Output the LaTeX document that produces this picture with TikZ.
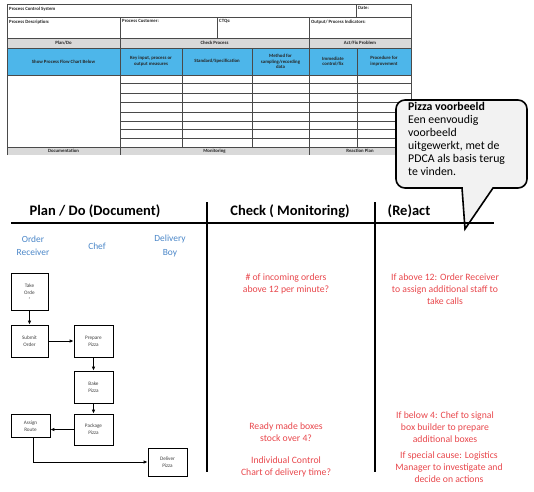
\documentclass[tikz,border=0pt]{standalone}
\usepackage{fontspec}
\setmainfont{Carlito}
\usetikzlibrary{arrows.meta, positioning}
\definecolor{HeadGray}{HTML}{D9D9D9}
\definecolor{SkyBlue}{HTML}{4DB6EA}
\definecolor{GridGray}{HTML}{4A4A4A}
\definecolor{NoteRed}{HTML}{E8474C}
\definecolor{RoleBlue}{HTML}{4A86C8}
\definecolor{BubbleGray}{HTML}{F2F2F2}

\begin{document}
\begin{tikzpicture}[
    x=1pt, y=-1pt,
    grid/.style={draw=GridGray, line width=0.7pt},
    cell/.style={font=\fontsize{4.8}{5.8}\selectfont\bfseries, text=black!85, inner sep=1pt, align=center},
    celltl/.style={cell, anchor=north west, align=left},
    flow/.style={draw, line width=0.7pt, align=center, inner sep=1pt, font=\fontsize{5.2}{7.2}\selectfont, text=black!75},
    flowarrow/.style={-{Latex[length=4pt, width=3.5pt]}, line width=0.9pt},
    phase/.style={font=\fontsize{14.5}{16}\selectfont\bfseries},
    role/.style={font=\fontsize{9.4}{13.5}\selectfont, text=RoleBlue, align=center},
    redtext/.style={font=\fontsize{9.7}{12}\selectfont, text=NoteRed, align=center},
    bar/.style={line width=2.2pt}
  ]
    \useasboundingbox (0,0) rectangle (534,491);

    % template table
    \fill[HeadGray] (7,38) rectangle (411,48);
    \fill[HeadGray] (7,147) rectangle (411,155);
    \fill[SkyBlue] (7,48) rectangle (411,75);
    \draw[grid] (7,155) -- (7,4) -- (411,4) -- (411,155);
    \foreach \yy in {17,38,48,75,147}
      \draw[grid] (7,\yy) -- (411,\yy);
    \foreach \yy in {83,93,102,112,121,129,138}
      \draw[grid] (120,\yy) -- (411,\yy);
    \draw[grid] (356,4) -- (356,17);
    \foreach \xx in {120,217,309}
      \draw[grid] (\xx,17) -- (\xx,38);
    \foreach \xx in {120,309}
      \draw[grid] (\xx,38) -- (\xx,48);
    \foreach \xx in {120,182,252,309,357}
      \draw[grid] (\xx,48) -- (\xx,147);
    \foreach \xx in {120,309}
      \draw[grid] (\xx,147) -- (\xx,155);

    \node[celltl] (tTitle) at (8,5.5) {Process Control System};
    \node[celltl] (tDate) at (357,5.5) {Date:};
    \node[celltl] (tDesc) at (8,18.5) {Process Description:};
    \node[celltl] (tCust) at (121,18.5) {Process Customer:};
    \node[celltl] (tCtq) at (218,18.5) {CTQs:};
    \node[celltl] (tOut) at (310,18.5) {Output/ Process Indicators:};
    \node[cell] (tPlan) at (63.5,43) {Plan/Do};
    \node[cell] (tCheck) at (214.5,43) {Check Process};
    \node[cell] (tAct) at (360,43) {Act/Fix Problem};
    \node[cell] (tFlow) at (63.5,61.5) {Show Process Flow Chart Below};
    \node[cell] (tKey) at (151,61.5) {Key input, process or\\output measures};
    \node[cell] (tStd) at (217,61.5) {Standard/Specification};
    \node[cell] (tMeth) at (280.5,61.5) {Method for\\sampling/recording\\data};
    \node[cell] (tImm) at (333,61.5) {Immediate\\control/fix};
    \node[cell] (tProc) at (384,61.5) {Procedure for\\improvement};
    \node[cell] (tDoc) at (63.5,151) {Documentation};
    \node[cell] (tMon) at (214.5,151) {Monitoring};
    \node[cell] (tReact) at (360,151) {Reaction Plan};

    % speech bubble
    \draw[line width=1.6pt, fill=BubbleGray] (462,188) [rounded corners=9pt] -- (396,188) -- (396,100)
      -- (527,100) -- (527,188) [sharp corners] -- (493,188) -- (465,229) -- cycle;
    \node[anchor=north west, align=left, inner sep=0pt, font=\fontsize{11.8}{13}\selectfont] (note) at (408,102)
      {\textbf{Pizza voorbeeld}\\Een eenvoudig\\voorbeeld\\uitgewerkt, met de\\PDCA als basis terug\\te vinden.};

    % PDCA board
    \draw[bar] (11,223) -- (494,223);
    \draw[bar] (207,202) -- (207,472);
    \draw[bar] (375,202) -- (375,472);
    \node[phase] (plan) at (95,211) {Plan / Do (Document)};
    \node[phase] (check) at (290,211) {Check ( Monitoring)};
    \node[phase] (react) at (409,211) {(Re)act};

    \node[role] (receiver) at (33,246) {Order\\Receiver};
    \node[role] (chef) at (97,246) {Chef};
    \node[role] (boy) at (170,246) {Delivery\\Boy};

    \node[flow, minimum width=37pt, minimum height=37pt] (take) at (29.5,291.5) {Take\\Orde\\[-2.5pt]{\fontsize{3.5}{4}\selectfont r}};
    \node[flow, minimum width=37pt, minimum height=32pt] (submit) at (29.5,341) {Submit\\Order};
    \node[flow, minimum width=39pt, minimum height=32pt] (prepare) at (93.5,341) {Prepare\\Pizza};
    \node[flow, minimum width=39pt, minimum height=32pt] (bake) at (93.5,387) {Bake\\Pizza};
    \node[flow, minimum width=39pt, minimum height=31pt] (package) at (93.5,429.5) {Package\\Pizza};
    \node[flow, minimum width=39pt, minimum height=23pt, anchor=north] (assign) at (30.5,414) {Assign\\Route};
    \node[flow, minimum width=39pt, minimum height=28pt] (deliver) at (167.5,462) {Deliver\\Pizza};

    \draw[flowarrow] (take) -- (submit);
    \draw[flowarrow] (submit) -- (prepare);
    \draw[flowarrow] (prepare) -- (bake);
    \draw[flowarrow] (bake) -- (package);
    \draw[flowarrow] (package.west) -- (assign.east |- package.west);
    \draw[flowarrow] ([xshift=3pt]assign.south) |- (deliver.west);

    \node[redtext] (orders) at (286,284) {\# of incoming orders\\above 12 per minute?};
    \node[redtext] (boxes) at (286,432) {Ready made boxes\\stock over 4?};
    \node[redtext] (chart) at (286,467) {Individual Control\\Chart of delivery time?};
    \node[redtext] (staff) at (445,289) {If above 12: Order Receiver\\to assign additional staff to\\take calls};
    \node[redtext] (signal) at (445,427) {If below 4: Chef to signal\\box builder to prepare\\additional boxes};
    \node[redtext] (cause) at (449,467) {If special cause: Logistics\\Manager to investigate and\\decide on actions};
  \end{tikzpicture}
\end{document}
